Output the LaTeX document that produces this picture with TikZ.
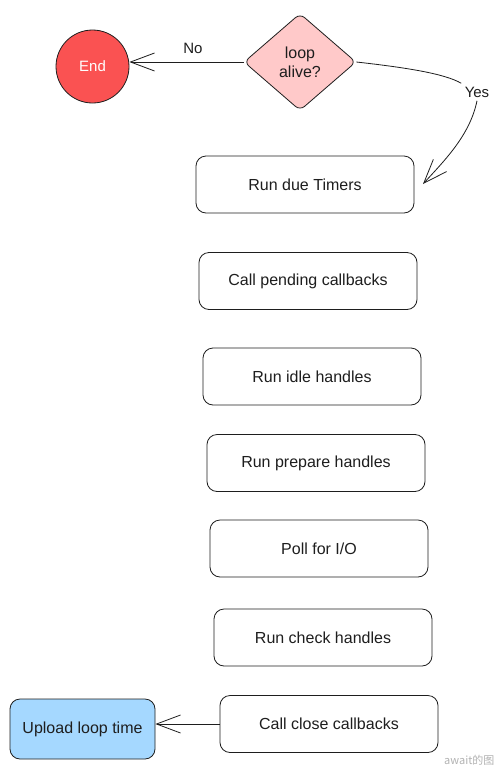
\documentclass[tikz,border=0pt]{standalone}
\usepackage{fontspec}
\setmainfont{Liberation Sans}
\newfontfamily\cjk{Noto Sans CJK SC}
\usetikzlibrary{shapes.geometric,arrows.meta}
\definecolor{ink}{HTML}{1E1E1E}
\definecolor{redfill}{HTML}{FA5252}
\definecolor{pinkfill}{HTML}{FFC9C9}
\definecolor{bluefill}{HTML}{A5D8FF}
\tikzset{
  stepbox/.style={draw=ink, line width=0.8pt, rounded corners=10pt, minimum width=218pt, minimum height=57pt, font=\fontsize{16}{18}\selectfont, text=ink},
  conn/.style={draw=ink, line width=0.8pt, -{Straight Barb[length=24pt,width=18pt,line width=0.8pt]}},
  lbl/.style={font=\fontsize{15}{17}\selectfont, text=ink}
}
\begin{document}
\begin{tikzpicture}[x=1pt,y=-1pt]
\useasboundingbox (0,0) rectangle (500,769);
\fill[white] (0,0) rectangle (500,769);
\node[draw=ink, line width=0.8pt, fill=pinkfill, diamond, rounded corners=6pt, minimum width=112pt, minimum height=97pt, inner sep=0pt, align=center, font=\fontsize{16}{19}\selectfont, text=ink] (dia) at (300,62) {loop\\alive?};
\node[draw=ink, line width=0.8pt, fill=redfill, circle, minimum size=73pt, inner sep=0pt, font=\fontsize{15}{17}\selectfont, text=white] (end) at (92.5,66.5) {End};
\node[stepbox] (b1) at (305,184.5) {Run due Timers};
\node[stepbox] (b2) at (308,281) {Call pending callbacks};
\node[stepbox] (b3) at (312,376.5) {Run idle handles};
\node[stepbox] (b4) at (316,463) {Run prepare handles};
\node[stepbox] (b5) at (319,548.5) {Poll for I/O};
\node[stepbox] (b6) at (323,637.5) {Run check handles};
\node[stepbox] (b7) at (329,724) {Call close callbacks};
\node[stepbox, fill=bluefill, minimum width=145pt, minimum height=60pt] (up) at (82.5,729) {Upload loop time};
\node[lbl] (no) at (193,48) {No};
\node[lbl] (yes) at (477,92) {Yes};
\coordinate (tip) at (423,184);
\draw[conn] (dia.west) -- (end.east |- dia.west);
\draw[draw=ink, line width=0.8pt] (dia.east) .. controls (410,68) and (445,74) .. (yes.north west);
\draw[conn] (yes.south) .. controls (470,135) and (445,160) .. (tip);
\draw[conn] (b7.west) -- (b7.west -| up.east);
\node[font=\cjk\fontsize{11}{13}\selectfont, text=gray!60, anchor=east] (wm) at (498,760) {await的图};
\end{tikzpicture}
\end{document}
